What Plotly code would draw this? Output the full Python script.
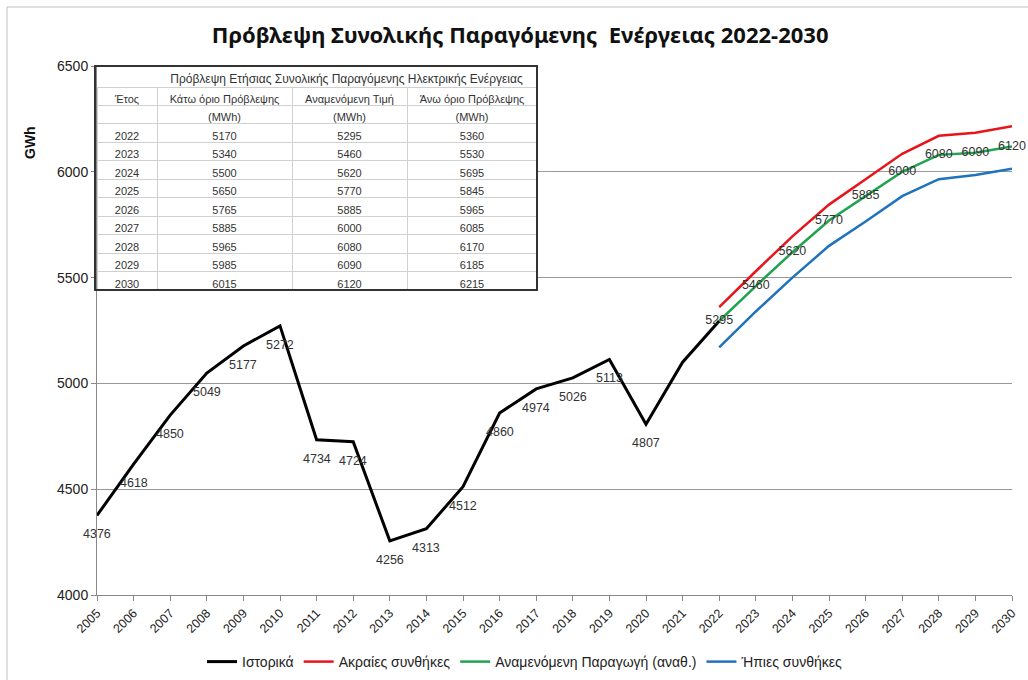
import plotly.graph_objects as go

# ---- data ----
hist_years = list(range(2005, 2023))
hist_vals = [4376, 4618, 4850, 5049, 5177, 5272, 4734, 4724, 4256, 4313, 4512,
             4860, 4974, 5026, 5113, 4807, 5100, 5295]
hist_labeled = 16  # first 16 historical points carry a value label

fc_years = list(range(2022, 2031))
low_vals = [5170, 5340, 5500, 5650, 5765, 5885, 5965, 5985, 6015]
mid_vals = [5295, 5460, 5620, 5770, 5885, 6000, 6080, 6090, 6120]
high_vals = [5360, 5530, 5695, 5845, 5965, 6085, 6170, 6185, 6215]

series_names = ["Ιστορικά", "Ακραίες συνθήκες", "Αναμενόμενη Παραγωγή (αναθ.)", "Ήπιες συνθήκες"]
table_top_line = "Πρόβλεψη Ετήσιας Συνολικής Παραγόμενης Ηλεκτρικής Ενέργειας"
table_headers = ["Έτος", "Κάτω όριο Πρόβλεψης", "Αναμενόμενη Τιμή", "Άνω όριο Πρόβλεψης"]
table_unit = "(MWh)"

W, H = 1028, 680
L, R, T, B = 97, 1012, 66, 595

def px(x):
    return (x - L) / (R - L)

def py(y):
    return (B - y) / (B - T)

LABEL_FONT = dict(size=12.5, color="#333333", family="Liberation Sans")
TABLE_TFONT = dict(size=12, color="#333333", family="Liberation Sans")
TABLE_FONT = dict(size=11, color="#333333", family="Liberation Sans")

fig = go.Figure()

fig.add_trace(go.Scatter(
    x=hist_years, y=hist_vals, name=series_names[0], mode="lines",
    line=dict(color="#000000", width=3)))
fig.add_trace(go.Scatter(
    x=fc_years, y=high_vals, name=series_names[1], mode="lines",
    line=dict(color="#e8141c", width=2.5)))
fig.add_trace(go.Scatter(
    x=fc_years, y=mid_vals, name=series_names[2], mode="lines+text",
    line=dict(color="#1fa34f", width=2.5), text=[str(v) for v in mid_vals],
    textposition="middle center", textfont=LABEL_FONT, cliponaxis=False))
fig.add_trace(go.Scatter(
    x=fc_years, y=low_vals, name=series_names[3], mode="lines",
    line=dict(color="#1f72bd", width=2.5)))

# value labels of the historical series (placed below each point)
for xv, yv in zip(hist_years[:hist_labeled], hist_vals[:hist_labeled]):
    fig.add_annotation(x=xv, y=yv, text=str(yv), showarrow=False, yshift=-19,
                       font=LABEL_FONT)

# table: spanning top line
fig.add_trace(go.Table(
    domain=dict(x=[px(157), px(537)], y=[py(88), 1]),
    header=dict(values=[table_top_line], fill_color="white",
                line=dict(color="white", width=0), align="center",
                font=TABLE_TFONT, height=21),
    cells=dict(values=[[]], fill_color="white", line=dict(color="white", width=0),
               height=1)))

# table: main body
col_year = [""] + [str(v) for v in fc_years]
col_low = [table_unit] + [str(v) for v in low_vals]
col_mid = [table_unit] + [str(v) for v in mid_vals]
col_high = [table_unit] + [str(v) for v in high_vals]
fig.add_trace(go.Table(
    domain=dict(x=[0, px(537)], y=[py(294), py(87)]),
    columnwidth=[60, 135, 115, 130],
    header=dict(values=table_headers, fill_color="white",
                line=dict(color="#d0d0d0", width=1), align="center",
                font=TABLE_FONT, height=18),
    cells=dict(values=[col_year, col_low, col_mid, col_high], fill_color="white",
               line=dict(color="#d0d0d0", width=1), align="center",
               font=TABLE_FONT, height=18.5)))

fig.update_layout(
    width=W, height=H,
    margin=dict(l=L, r=W - R, t=T, b=H - B, autoexpand=False),
    paper_bgcolor="white", plot_bgcolor="white",
    title=dict(text="<b>Πρόβλεψη Συνολικής Παραγόμενης  Ενέργειας 2022-2030</b>",
               x=0.506, xanchor="center", y=1 - 35 / H, yanchor="middle",
               font=dict(size=22, color="#111111", family="Noto Sans")),
    xaxis=dict(range=[2005, 2030], tickmode="linear", tick0=2005, dtick=1,
               tickangle=-45, ticks="outside", ticklen=5, tickcolor="#888888",
               showline=True, linecolor="#888888", showgrid=False, zeroline=False,
               tickfont=dict(size=12.5, color="#222222", family="Liberation Sans")),
    yaxis=dict(range=[4000, 6500], dtick=500, ticks="outside", ticklen=5,
               tickcolor="#888888", showline=True, linecolor="#888888",
               showgrid=True, gridcolor="#999999", gridwidth=1, zeroline=False,
               tickfont=dict(size=14, color="#222222", family="Liberation Sans")),
    legend=dict(orientation="h", x=px(525), xanchor="center", y=py(662), yanchor="middle",
                font=dict(size=14, color="#222222", family="Liberation Sans"),
                itemwidth=30, tracegroupgap=0),
    showlegend=True,
)

fig.add_annotation(text="<b>GWh</b>", textangle=-90, xref="paper", yref="paper",
                   x=px(30), y=py(143), xanchor="center", yanchor="middle", showarrow=False,
                   font=dict(size=14, color="#111111", family="Liberation Sans"))
# table outer frame
fig.add_shape(type="rect", xref="paper", yref="paper",
              x0=px(95), x1=px(537), y0=py(290), y1=py(66),
              line=dict(color="#333333", width=2))
# chart outer border (left and top edges visible in the reference)
fig.add_shape(type="line", xref="paper", yref="paper",
              x0=px(7), x1=px(7), y0=py(680), y1=py(7),
              line=dict(color="#c0c0c0", width=1))
fig.add_shape(type="line", xref="paper", yref="paper",
              x0=px(7), x1=px(1028), y0=py(7), y1=py(7),
              line=dict(color="#c0c0c0", width=1))

fig.write_html("out.html", config={"displayModeBar": False},
               post_script="document.body.style.margin='0px';")
